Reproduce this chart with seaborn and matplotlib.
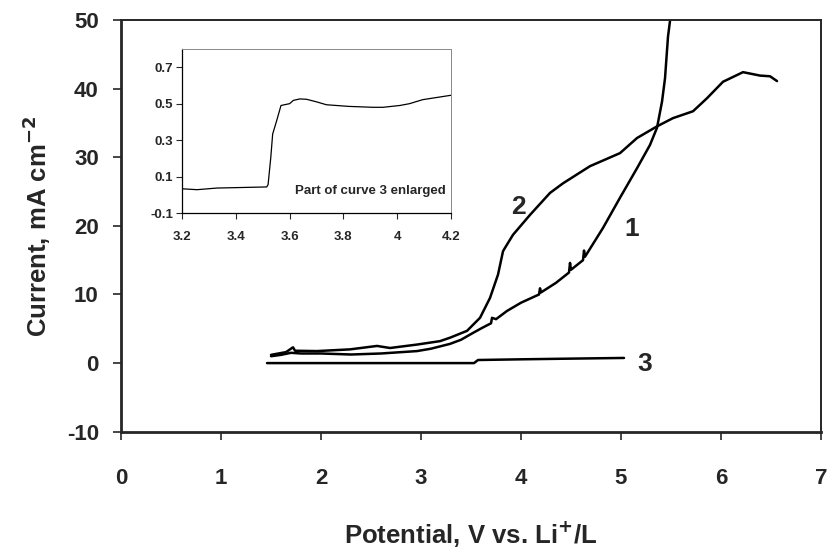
import numpy as np
import pandas as pd
import matplotlib
matplotlib.use("Agg")
import matplotlib.pyplot as plt
import seaborn as sns

# Kurve 1 (Potential V, Strom mA/cm2)
pot_1 = [1.50, 1.60, 1.70, 1.80, 2.00, 2.30, 2.60, 2.96, 3.10, 3.29, 3.40, 3.52, 3.62,
         3.70, 3.71, 3.75, 3.86, 4.00, 4.18, 4.19, 4.20, 4.35, 4.48, 4.49, 4.50, 4.62,
         4.63, 4.64, 4.82, 4.99, 5.16, 5.29, 5.36, 5.41, 5.44, 5.47, 5.50]
cur_1 = [1.0, 1.2, 1.5, 1.4, 1.4, 1.25, 1.4, 1.75, 2.1, 2.8, 3.4, 4.4, 5.2,
         5.8, 6.6, 6.4, 7.6, 8.8, 10.0, 10.9, 10.3, 11.7, 13.2, 14.6, 13.6, 15.0,
         16.4, 15.5, 19.7, 24.1, 28.4, 31.8, 34.3, 38.1, 41.5, 47.6, 51.0]

# Kurve 2
pot_2 = [1.50, 1.65, 1.72, 1.74, 1.96, 2.29, 2.56, 2.69, 2.96, 3.19, 3.29, 3.46, 3.59,
         3.69, 3.77, 3.82, 3.84, 3.92, 4.09, 4.29, 4.42, 4.69, 4.99, 5.16, 5.36, 5.52,
         5.72, 5.86, 6.02, 6.22, 6.39, 6.49, 6.56]
cur_2 = [1.2, 1.6, 2.3, 1.8, 1.75, 2.0, 2.5, 2.2, 2.7, 3.2, 3.7, 4.7, 6.6,
         9.5, 12.9, 16.3, 16.8, 18.7, 21.6, 24.8, 26.2, 28.7, 30.6, 32.8, 34.5, 35.7,
         36.7, 38.6, 41.0, 42.4, 41.9, 41.8, 41.1]

# Kurve 3
pot_3 = [1.46, 3.53, 3.57, 4.00, 4.50, 5.03]
cur_3 = [0.0, 0.0, 0.45, 0.55, 0.65, 0.75]

# Ausschnitt von Kurve 3 (Inset)
pot_zoom = [3.20, 3.256, 3.33, 3.515, 3.52, 3.53, 3.537, 3.552, 3.568, 3.60, 3.614, 3.638,
            3.663, 3.70, 3.737, 3.82, 3.91, 3.947, 4.01, 4.046, 4.095, 4.13, 4.20]
cur_zoom = [0.033, 0.028, 0.037, 0.043, 0.056, 0.204, 0.333, 0.407, 0.49, 0.50, 0.518, 0.526,
            0.524, 0.51, 0.494, 0.485, 0.48, 0.48, 0.49, 0.50, 0.522, 0.53, 0.546]

x_ticks = list(range(0, 8))
y_ticks = list(range(-10, 51, 10))
inset_x_ticks = [3.2, 3.4, 3.6, 3.8, 4.0, 4.2]
inset_x_labels = ["3.2", "3.4", "3.6", "3.8", "4", "4.2"]
inset_y_ticks = [-0.1, 0.1, 0.3, 0.5, 0.7]
inset_y_labels = ["-0.1", "0.1", "0.3", "0.5", "0.7"]

sns.set_style("ticks")
plt.rcParams['font.family'] = ['Liberation Sans', 'DejaVu Sans']
plt.rcParams['axes.unicode_minus'] = False
plt.rcParams['mathtext.default'] = 'bf'

fig = plt.figure(figsize=(8.33, 5.51), dpi=100)
ax = fig.add_axes([0.1453, 0.2165, 0.8403, 0.7472])

curves = [(pot_1, cur_1), (pot_2, cur_2), (pot_3, cur_3)]
for px, cy in curves:
    df = pd.DataFrame({"pot": px, "cur": cy})
    sns.lineplot(data=df, x="pot", y="cur", sort=False, color="black", lw=1.8, ax=ax)

ax.set_xlim(0, 7)
ax.set_ylim(-10, 50)
ax.set_xticks(x_ticks)
ax.set_yticks(y_ticks)
ax.tick_params(direction="out", length=6, width=1.2, labelsize=16)
ax.tick_params(axis="y", pad=10)
ax.tick_params(axis="x", pad=20)
for lab in ax.get_xticklabels() + ax.get_yticklabels():
    lab.set_fontweight("bold")
for side in ["left", "bottom"]:
    ax.spines[side].set_linewidth(2.0)
for side in ["top", "right"]:
    ax.spines[side].set_linewidth(1.4)
ax.set_xlabel("Potential, V vs. Li$^{+}$/L", fontsize=18.5, fontweight="bold", labelpad=22)
ax.set_ylabel("Current, mA cm$^{-2}$", fontsize=18.5, fontweight="bold", labelpad=10)

# Kurvennummern
ax.text(3.97, 22.8, "2", fontsize=19, fontweight="bold", ha="center", va="center")
ax.text(5.11, 19.6, "1", fontsize=19, fontweight="bold", ha="center", va="center")
ax.text(5.24, -0.2, "3", fontsize=19, fontweight="bold", ha="center", va="center")

# Inset
ins = fig.add_axes([0.2185, 0.6134, 0.3229, 0.2977])
df_zoom = pd.DataFrame({"pot": pot_zoom, "cur": cur_zoom})
sns.lineplot(data=df_zoom, x="pot", y="cur", sort=False, color="black", lw=0.9, ax=ins)
ins.set_xlim(3.2, 4.2)
ins.set_ylim(-0.1, 0.8)
ins.set_xticks(inset_x_ticks)
ins.set_xticklabels(inset_x_labels)
ins.set_yticks(inset_y_ticks)
ins.set_yticklabels(inset_y_labels)
ins.tick_params(direction="out", length=4, width=0.8, labelsize=9.5)
ins.tick_params(axis="x", pad=9)
ins.tick_params(axis="y", pad=2.5)
for lab in ins.get_xticklabels() + ins.get_yticklabels():
    lab.set_fontweight("bold")
ins.set_xlabel("")
ins.set_ylabel("")
for side in ["left", "bottom"]:
    ins.spines[side].set_linewidth(0.9)
    ins.spines[side].set_color("black")
for side in ["top", "right"]:
    ins.spines[side].set_linewidth(0.7)
    ins.spines[side].set_color("#888888")
ins.text(4.18, 0.02, "Part of curve 3 enlarged", fontsize=9.5, fontweight="bold",
         ha="right", va="center")

fig.savefig("out.png", dpi=100)
